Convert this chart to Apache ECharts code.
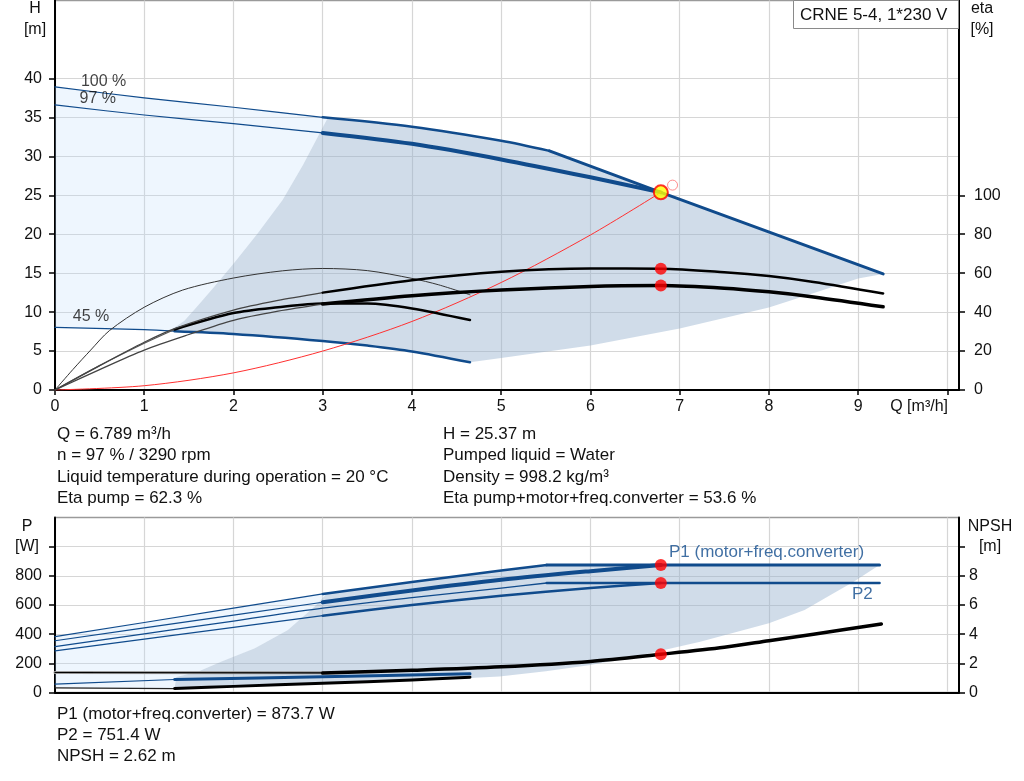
<!DOCTYPE html>
<html><head><meta charset="utf-8">
<script src="https://cdn.jsdelivr.net/npm/echarts@6/dist/echarts.min.js"></script>
<style>html,body{margin:0;padding:0;background:#fff}#c{width:1024px;height:781px}</style>
</head><body><div id="c"></div>
<script>
// ---------- DATA (Q in m3/h) ----------
// Head curves H [m]
const H100_thin  = [[0,38.9],[1,37.5],[2,36.3],[3,35.0]];
const H100_thick = [[3,35.0],[4,33.8],[5,32.0],[5.54,30.7]];
const Hmax_right = [[5.54,30.7],[6.789,25.37],[9.28,14.9]];
const H97_thin   = [[0,36.6],[1,35.3],[2,34.2],[3,33.0]];
const H97_thick  = [[3,33.0],[4,31.6],[5,29.6],[6,27.3],[6.789,25.37]];
const H45_thin   = [[0,8.05],[1,7.75],[1.34,7.55]];
const H45_thick  = [[1.34,7.55],[2,7.2],[3,6.3],[3.5,5.7],[4,4.95],[4.65,3.55]];
const Hsystem    = [[0,0],[1,0.55],[2,2.2],[3,5.0],[4,8.8],[5,13.8],[6,19.9],[6.789,25.37]];
// operating-area boundaries (H)
const Hdark_left   = [[1.30,7.7],[1.45,8.9],[1.6,10.8],[1.78,13.2],[2.0,16.2],[2.27,20.1],[2.55,24.4],[2.78,28.9],[3.06,35.0]];
const Hdark_bottom = [[9.28,14.9],[9.0,14.3],[8.6,12.8],[8.0,10.6],[7.0,7.9],[6.0,5.7],[5.0,4.1],[4.65,3.55]];
// Efficiency curves eta [%]
const EtaP45      = [[0,0],[0.2,10.5],[0.4,20.5],[0.61,30.5],[1,42.5],[1.43,51.3],[2,57.5],[2.55,61.2],[3,62.4],[3.5,61.3],[4,57.3],[4.3,54],[4.65,48.9]];
const EtaT45_thin = [[0,0],[0.5,12.5],[1,24],[1.34,31.1]];
const EtaT45_thick= [[1.34,31.1],[2,39.5],[2.5,42.5],[3,44.4],[3.5,44.4],[4,41.9],[4.65,35.9]];
const EtaP97_thin = [[0,0],[0.5,12.5],[1,24.5],[1.34,31.5],[2,41],[2.5,46],[3,50]];
const EtaP97_thick= [[3,50],[4,56.4],[5,60.7],[6,62.4],[6.789,62.3],[7.5,60.5],[8,58.5],[8.5,55.5],[9.28,49.6]];
const EtaT97_thin = [[0,0],[0.5,10.5],[1,20.5],[1.5,28.5],[2,35.8],[2.5,40.5],[3,44.1]];
const EtaT97_thick= [[3,44.1],[4,48.4],[5,51.3],[6,53.2],[6.789,53.6],[7.5,52.3],[8,50.4],[8.5,47.8],[9.28,42.7]];
// Power curves P [W]
const P1_100_thin  = [[0,383],[1,480],[2,578],[3,676]];
const P1_100_thick = [[3,676],[4,757],[5,837],[5.51,874]];
const P1_flat      = [[5.51,874],[9.24,874]];
const P1_97_thin   = [[0,355],[1,443],[2,531],[3,619]];
const P1_97_thick  = [[3,619],[4,700],[5,773],[6,832],[6.789,873.7]];
const P2_100       = [[0,314],[1,402],[2,490],[3,578],[4,650],[5,716],[5.51,751]];
const P2_flat      = [[5.51,751],[9.24,751]];
const P2_97_thin   = [[0,286],[1,366],[2,446],[3,527]];
const P2_97_thick  = [[3,527],[4,600],[5,663],[6,716],[6.789,751.4]];
const P1_45_thin   = [[0,57],[1.34,89]];
const P1_45_thick  = [[1.34,89],[3,108],[4.65,128]];
const Plow45_thin  = [[0,32],[1.34,27]];
const Plow45_thick = [[1.34,27],[2,42],[3,63],[4,86],[4.65,105]];
// operating-area boundaries (P)
const Pdark_left   = [[1.34,27],[1.36,107],[1.60,142],[1.86,211],[2.24,303],[2.61,429],[2.91,589],[3.05,680]];
const Pdark_bottom = [[9.24,874],[9.1,820],[8.95,760],[8.7,672],[8.4,566],[8.0,475],[7.23,348],[6.8,288],[6.5,245],[6.0,188],[5.5,145],[4.98,110],[4.65,100]];
// NPSH [m]
const NPSH_left  = [[0,1.37],[3,1.35]];
const NPSH_thick = [[3,1.33],[4,1.52],[5,1.76],[6,2.13],[6.789,2.62],[7.5,3.1],[8,3.55],[8.5,4.0],[9.26,4.7]];
// duty point
const dutyQ = 6.789, dutyH = 25.37, dutyEtaP = 62.3, dutyEtaT = 53.6, dutyP1 = 873.7, dutyP2 = 751.4, dutyNPSH = 2.62;
const ghostPoint = [6.92, 26.3];
// ticks
const qTicks = [0,1,2,3,4,5,6,7,8,9,10];
const qLabels = [0,1,2,3,4,5,6,7,8,9];
const hTicks = [0,5,10,15,20,25,30,35,40];
const etaTicks = [0,20,40,60,80,100];
const pTicks = [0,200,400,600,800,1000];
const npshTicks = [0,2,4,6,8,10];

// ---------- helpers ----------
const FONT = 'Liberation Sans, Arial, sans-serif';
const BLUE = '#104b8c';
function ln(data, color, width, xi, yi, smooth) {
  return {type:'line', data:data, xAxisIndex:xi, yAxisIndex:yi, symbol:'none', showSymbol:false,
    smooth: smooth === undefined ? 0.3 : smooth, silent:true, z:3,
    lineStyle:{color:color, width:width, cap:'round', join:'round'}};
}
function poly(points, fill, xi, yi) {
  return {type:'custom', xAxisIndex:xi, yAxisIndex:yi, silent:true, z:1, clip:true,
    data:[[points[0][0], points[0][1]]],
    renderItem: function(params, api){
      return {type:'polygon', shape:{points: points.map(function(p){return api.coord(p);})}, style:{fill:fill}};
    }};
}
function rev(a){ return a.slice().reverse(); }
function dot(pt, xi, yi, size, style, z) {
  return {type:'scatter', xAxisIndex:xi, yAxisIndex:yi, data:[pt], symbol:'circle', symbolSize:size, silent:true, z:z||5, itemStyle:style};
}
function txt(pt, text, color, xi, yi, size) {
  return {type:'scatter', xAxisIndex:xi, yAxisIndex:yi, symbolSize:0, silent:true, z:6,
    data:[{value:pt}], label:{show:true, formatter:text, position:'right', distance:0, color:color, fontSize:size, fontFamily:FONT}};
}

// polygons
const darkTop = Hdark_left.concat(H100_thick.slice(1), Hmax_right.slice(1), Hdark_bottom.slice(1), rev(H45_thick).slice(1));
const lightTop = H100_thin.concat(rev(Hdark_left), rev(H45_thin));
const darkBot = Pdark_left.concat(P1_100_thick.slice(1), P1_flat.slice(1), Pdark_bottom.slice(1), rev(Plow45_thick).slice(1));
const lightBot = P1_100_thin.concat(rev(Pdark_left), rev(Plow45_thin));

const DARK = 'rgba(150,178,207,0.45)';
const LIGHT = 'rgba(190,220,250,0.26)';

const axisLbl = {color:'#111', fontSize:16, fontFamily:FONT};
function xAx(grid, labels) {
  return {type:'value', gridIndex:grid, min:0, max:10.13, interval:1,
    axisLine:{show:true, onZero:false, lineStyle:{color:'#000', width:2}},
    axisTick:{show:labels, length:5, customValues:qTicks, lineStyle:{color:'#000', width:1.5}},
    axisLabel:Object.assign({show:labels, margin:9, customValues:qLabels, formatter:function(v){return (Number.isInteger(v)&&v<=9)?String(v):'';}}, axisLbl),
    splitLine:{show:true, lineStyle:{color:'#d6d6d6', width:1.2}}};
}
function yAx(grid, min, max, interval, pos, labelMax, ticks, split, margin) {
  return {type:'value', gridIndex:grid, min:min, max:max, interval:interval, position:pos,
    axisLine:{show:true, onZero:false, lineStyle:{color:'#000', width:2}},
    axisTick:{show:true, length:6, customValues:ticks, lineStyle:{color:'#000', width:1.5}},
    axisLabel:Object.assign({margin:margin, customValues:ticks.filter(function(t){return t<=labelMax;}), formatter:function(v){return v<=labelMax?String(v):'';}}, axisLbl),
    splitLine:{show:split, lineStyle:{color:'#d6d6d6', width:1.2}}};
}

const series = [
  // top fills
  poly(lightTop, LIGHT, 0, 0),
  poly(darkTop, DARK, 0, 0),
  // head curves
  ln(H100_thin, BLUE, 1.2, 0, 0),
  ln(H97_thin, BLUE, 1.2, 0, 0),
  ln(H45_thin, BLUE, 1.2, 0, 0),
  ln(H100_thick, BLUE, 2.5, 0, 0),
  ln(Hmax_right, BLUE, 3, 0, 0, false),
  ln(H97_thick, BLUE, 4, 0, 0),
  ln(H45_thick, BLUE, 2.5, 0, 0),
  ln(Hsystem, '#ff3030', 1, 0, 0),
  // efficiency curves (right axis)
  ln(EtaP45, '#333', 1, 0, 1),
  ln(EtaT45_thin, '#555', 1.2, 0, 1),
  ln(EtaT45_thick, '#000', 2.5, 0, 1),
  ln(EtaP97_thin, '#444', 1.3, 0, 1),
  ln(EtaP97_thick, '#000', 2.5, 0, 1),
  ln(EtaT97_thin, '#444', 1.3, 0, 1),
  ln(EtaT97_thick, '#000', 3.5, 0, 1),
  // duty markers top
  dot(ghostPoint, 0, 0, 10, {color:'rgba(0,0,0,0)', borderColor:'#ff7070', borderWidth:1}),
  dot([dutyQ, dutyH], 0, 0, 14, {color:'#ffff00', borderColor:'#ff0000', borderWidth:2}, 7),
  dot([dutyQ, dutyEtaP], 0, 1, 12, {color:'#ff0000'}),
  dot([dutyQ, dutyEtaT], 0, 1, 12, {color:'#ff0000'}),
  txt([0.29, 39.6], '100 %', '#111', 0, 0, 16),
  txt([0.275, 37.4], '97 %', '#111', 0, 0, 16),
  txt([0.2, 9.4], '45 %', '#111', 0, 0, 16),
  // bottom fills
  poly(lightBot, LIGHT, 1, 2),
  poly(darkBot, DARK, 1, 2),
  // power curves
  ln(P1_100_thin, BLUE, 1.2, 1, 2, false),
  ln(P1_97_thin, BLUE, 1.2, 1, 2, false),
  ln(P2_97_thin, BLUE, 1.2, 1, 2, false),
  ln(P2_100, BLUE, 1.3, 1, 2),
  ln(P1_100_thick, BLUE, 2.5, 1, 2, false),
  ln(P1_flat, BLUE, 3, 1, 2, false),
  ln(P1_97_thick, BLUE, 4, 1, 2),
  ln(P2_97_thick, BLUE, 2.5, 1, 2),
  ln(P2_flat, BLUE, 2.5, 1, 2, false),
  ln(P1_45_thin, BLUE, 1.2, 1, 2, false),
  ln(P1_45_thick, BLUE, 3, 1, 2),
  ln(Plow45_thin, '#222', 1.2, 1, 2, false),
  ln(Plow45_thick, '#000', 3, 1, 2),
  ln(NPSH_left, '#999', 3, 1, 3, false),
  ln(NPSH_left, '#000', 1.2, 1, 3, false),
  ln(NPSH_thick, '#000', 3.5, 1, 3),
  dot([dutyQ, dutyP1], 1, 2, 12, {color:'#ff0000'}),
  dot([dutyQ, dutyP2], 1, 2, 12, {color:'#ff0000'}),
  dot([dutyQ, dutyNPSH], 1, 3, 12, {color:'#ff0000'}),
  txt([6.88, 959], 'P1 (motor+freq.converter)', BLUE, 1, 2, 17),
  txt([8.93, 676], 'P2', BLUE, 1, 2, 17)
];

function gtext(x, y, text, opts) {
  return Object.assign({type:'text', x:x, y:y, silent:true, z:10,
    style:Object.assign({text:text, fill:'#111', font:'16px ' + FONT, textVerticalAlign:'middle', verticalAlign:'middle'}, opts||{})});
}
const infoFont = '17px ' + FONT;
const graphics = [
  gtext(35, 9, 'H', {textAlign:'center', align:'center'}),
  gtext(35, 30, '[m]', {textAlign:'center', align:'center'}),
  gtext(982, 9, 'eta', {textAlign:'center', align:'center'}),
  gtext(982, 30, '[%]', {textAlign:'center', align:'center'}),
  gtext(27, 527, 'P', {textAlign:'center', align:'center'}),
  gtext(27, 547, '[W]', {textAlign:'center', align:'center'}),
  gtext(990, 527, 'NPSH', {textAlign:'center', align:'center'}),
  gtext(990, 547, '[m]', {textAlign:'center', align:'center'}),
  gtext(948, 407, 'Q [m³/h]', {textAlign:'right', align:'right'}),
  {type:'rect', shape:{x:793.5, y:0.5, width:165, height:28}, style:{fill:'#fff', stroke:'#8a8a8a', lineWidth:1}, z:9, silent:true},
  gtext(800, 15, 'CRNE 5-4, 1*230 V', {font:'17px ' + FONT}),
  gtext(57, 434, 'Q = 6.789 m³/h', {font:infoFont}),
  gtext(57, 455.5, 'n = 97 % / 3290 rpm', {font:infoFont}),
  gtext(57, 477, 'Liquid temperature during operation = 20 °C', {font:infoFont}),
  gtext(57, 498, 'Eta pump = 62.3 %', {font:infoFont}),
  gtext(443, 434, 'H = 25.37 m', {font:infoFont}),
  gtext(443, 455.5, 'Pumped liquid = Water', {font:infoFont}),
  gtext(443, 477, 'Density = 998.2 kg/m³', {font:infoFont}),
  gtext(443, 498, 'Eta pump+motor+freq.converter = 53.6 %', {font:infoFont}),
  gtext(57, 714, 'P1 (motor+freq.converter) = 873.7 W', {font:infoFont}),
  gtext(57, 735, 'P2 = 751.4 W', {font:infoFont}),
  gtext(57, 756, 'NPSH = 2.62 m', {font:infoFont})
];

const chart = echarts.init(document.getElementById('c'), null, {renderer:'canvas'});
chart.setOption({
  animation:false,
  backgroundColor:'#fff',
  textStyle:{fontFamily:FONT},
  grid:[
    {left:55, top:0.5, width:904, height:389.5, show:true, borderColor:'#9a9a9a', borderWidth:1.5, backgroundColor:'rgba(0,0,0,0)'},
    {left:55, top:517.5, width:904, height:175, show:true, borderColor:'#9a9a9a', borderWidth:1.5, backgroundColor:'rgba(0,0,0,0)'}
  ],
  xAxis:[xAx(0, true), xAx(1, false)],
  yAxis:[
    yAx(0, 0, 50, 5, 'left', 40, hTicks, true, 13),
    yAx(0, 0, 200, 20, 'right', 100, etaTicks, false, 15),
    yAx(1, 0, 1200, 200, 'left', 800, pTicks, true, 13),
    yAx(1, 0, 12, 2, 'right', 8, npshTicks, false, 10)
  ],
  series:series,
  graphic:graphics
});
</script>
</body></html>
